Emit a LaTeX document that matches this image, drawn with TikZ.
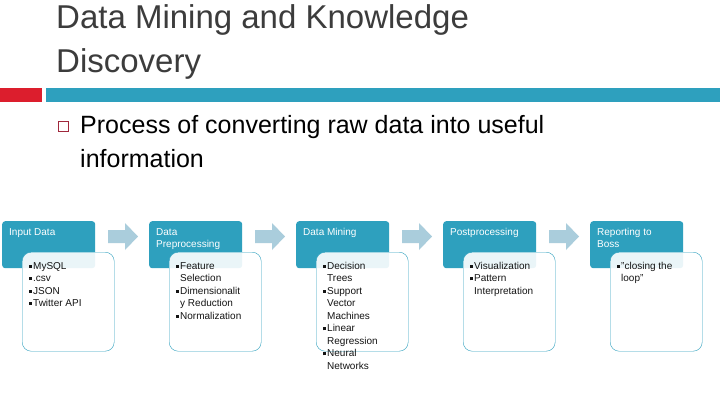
\documentclass[tikz,border=0pt]{standalone}
\usepackage{fontspec}
\setmainfont{Liberation Sans}
\definecolor{tealc}{RGB}{46,160,190}
\definecolor{redc}{RGB}{220,30,45}
\definecolor{sqc}{RGB}{160,40,60}
\definecolor{arrc}{RGB}{170,205,220}
\definecolor{titc}{RGB}{60,60,60}
\definecolor{txc}{RGB}{20,20,20}
\begin{document}
\begin{tikzpicture}[x=1pt,y=-1pt,
  hdr/.style={fill=tealc, rounded corners=3pt, minimum width=93pt, minimum height=47pt, anchor=north west, inner sep=0pt},
  body/.style={draw=tealc, fill=white, fill opacity=0.9, text opacity=1, rounded corners=9pt, minimum width=92pt, minimum height=99pt, anchor=north west, inner sep=0pt},
  htxt/.style={anchor=north west, text=white, font=\fontsize{10}{12}\selectfont, align=left, inner sep=0pt},
  btxt/.style={anchor=north west, text=txc, font=\fontsize{10}{12.5}\selectfont, align=left, inner sep=0pt},
  arr/.style={fill=arrc, draw=none}]
\useasboundingbox (0,0) rectangle (720,405);
\fill[white] (0,0) rectangle (720,405);
\node[anchor=north west, inner sep=0pt, font=\fontsize{33}{44}\selectfont, text=titc, align=left] (title) at (56,4) {Data Mining and Knowledge\\Discovery};
\fill[redc] (0,88) rectangle (42,102);
\fill[tealc] (46,88) rectangle (720,102);
\draw[sqc, line width=0.9pt] (58.5,121.5) rectangle (68.5,131.5);
\node[anchor=north west, inner sep=0pt, font=\fontsize{25}{34}\selectfont, align=left] (proc) at (80,115) {Process of converting raw data into useful\\information};
\foreach \i/\h in {0/{Input Data}, 1/{Data\\Preprocessing}, 2/{Data Mining}, 3/{Postprocessing}, 4/{Reporting to\\Boss}}{
  \pgfmathsetmacro\xx{2+147*\i}
  \node[hdr] (h\i) at (\xx,221) {};
  \node[htxt] (ht\i) at (\xx+7,228) {\h};
  \node[body] (b\i) at (\xx+20,252) {};
}
\foreach \i in {0,1,2,3}{
  \pgfmathsetmacro\ax{108+147*\i}
  \fill[arr] (\ax,230) -- (\ax+17,230) -- (\ax+17,223) -- (\ax+30,236.5) -- (\ax+17,250) -- (\ax+17,243) -- (\ax,243) -- cycle;
}
\newcommand\bl{\rule[1.5pt]{3pt}{3pt}\hspace{1pt}}
\node[btxt] (t0) at (29,262) {\bl MySQL\\\bl .csv\\\bl JSON\\\bl Twitter API};
\node[btxt] (t1) at (176,262) {\bl Feature\\\phantom{\bl}Selection\\\bl Dimensionalit\\\phantom{\bl}y Reduction\\\bl Normalization};
\node[btxt] (t2) at (323,262) {\bl Decision\\\phantom{\bl}Trees\\\bl Support\\\phantom{\bl}Vector\\\phantom{\bl}Machines\\\bl Linear\\\phantom{\bl}Regression\\\bl Neural\\\phantom{\bl}Networks};
\node[btxt] (t3) at (470,262) {\bl Visualization\\\bl Pattern\\\phantom{\bl}Interpretation};
\node[btxt] (t4) at (617,262) {\bl "closing the\\\phantom{\bl}loop"};
\end{tikzpicture}
\end{document}
